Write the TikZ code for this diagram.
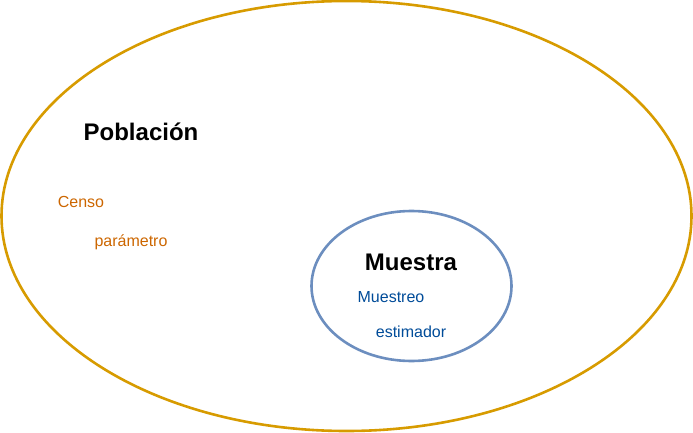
\documentclass[tikz,border=0pt]{standalone}
\usepackage{fontspec}
\setmainfont{Liberation Sans}
\usetikzlibrary{shapes.geometric}
\definecolor{gold}{HTML}{D79B00}
\definecolor{steel}{HTML}{6C8EBF}
\definecolor{orangetxt}{HTML}{CC6600}
\definecolor{bluetxt}{HTML}{004C99}
\begin{document}
\begin{tikzpicture}[x=1pt,y=-1pt,
  big/.style={font=\fontsize{24}{28}\selectfont\bfseries, text=black, inner sep=0pt},
  popl/.style={font=\fontsize{16}{19}\selectfont, text=orangetxt, inner sep=0pt},
  muest/.style={font=\fontsize{16}{19}\selectfont, text=bluetxt, inner sep=0pt}]
\useasboundingbox (0,0) rectangle (693,433);
\node[draw=gold, line width=2.6pt, ellipse, minimum width=690pt, minimum height=430pt, inner sep=0pt] (pop) at (346.5,216) {};
\node[draw=steel, line width=2.6pt, ellipse, minimum width=200pt, minimum height=150pt, inner sep=0pt, fill=white] (mue) at (411.5,286) {};
\node[big] (tpop) at (141,132) {Población};
\node[popl] (censo) at (81,202) {Censo};
\node[popl] (param) at (131,242) {parámetro};
\node[big] (tmue) at (411,262) {Muestra};
\node[muest] (muestreo) at (391,297) {Muestreo};
\node[muest] (estim) at (411,332) {estimador};
\end{tikzpicture}
\end{document}
